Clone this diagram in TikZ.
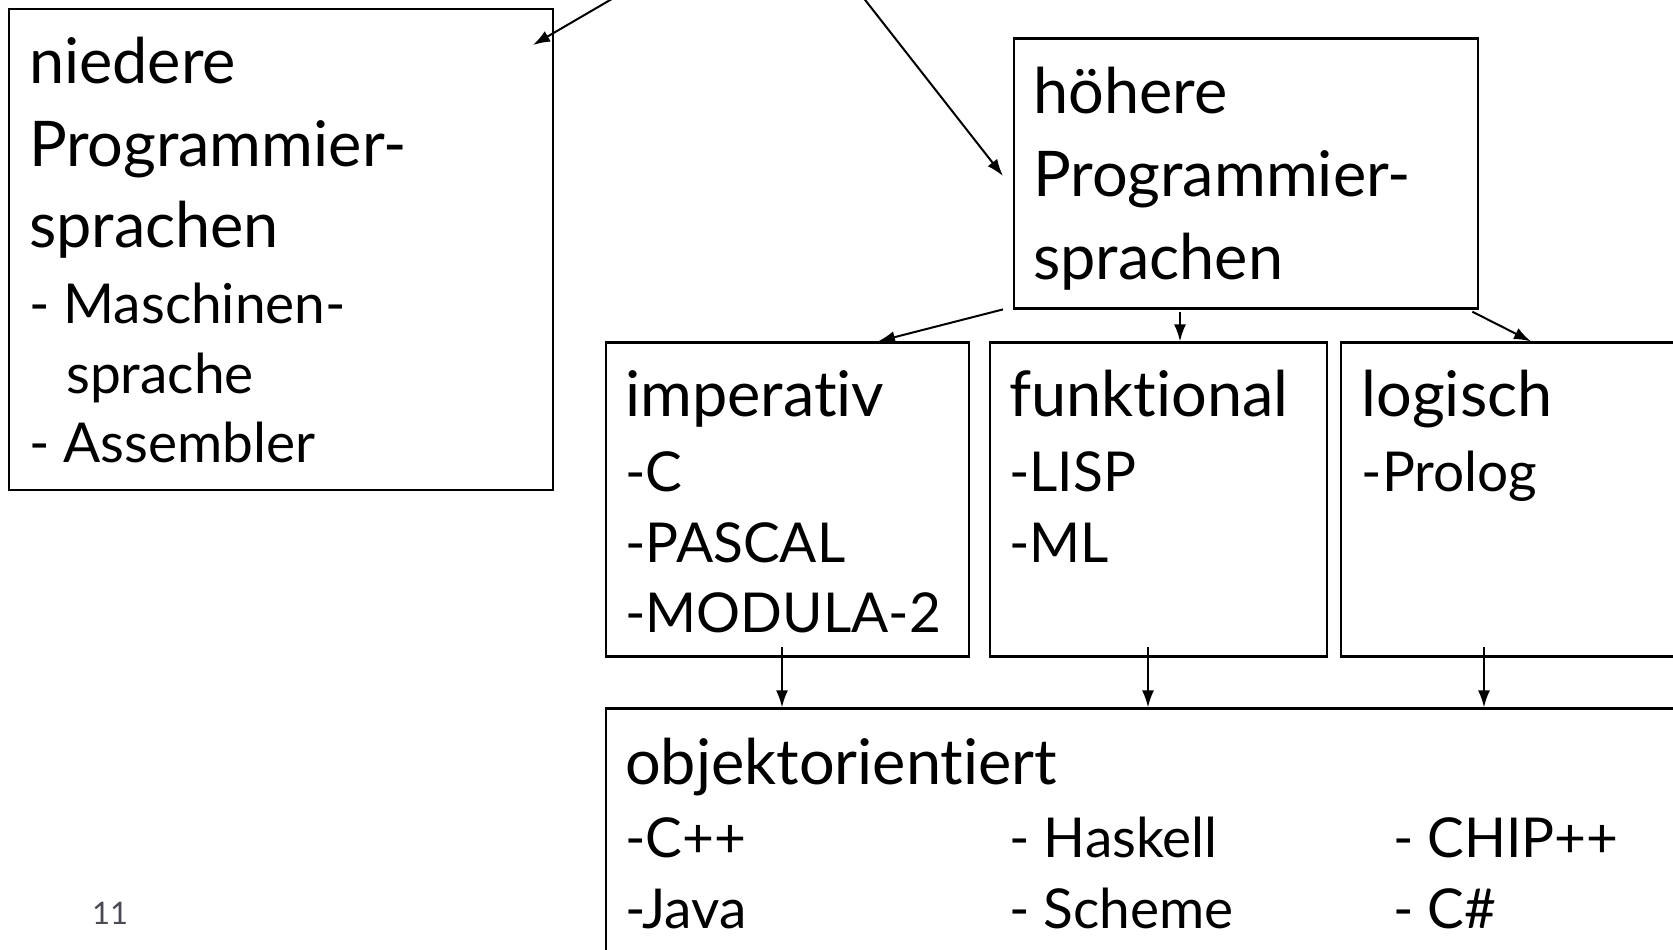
\documentclass[tikz,border=0pt]{standalone}
\usepackage{fontspec}
\setmainfont{Lato}[Ligatures={NoCommon}]
\usetikzlibrary{arrows.meta,calc}
\begin{document}
\begin{tikzpicture}[x=1pt,y=-1pt,
  box/.style={draw,line width=2.4pt,anchor=north west,inner sep=0pt},
  big/.style={anchor=base west,inner sep=0pt,font=\fontsize{63}{75}\selectfont},
  small/.style={anchor=base west,inner sep=0pt,font=\fontsize{55}{66}\selectfont},
  arr/.style={line width=2pt,-{Latex[length=17pt,width=12pt]}},
  pagenum/.style={anchor=base west,inner sep=0pt,text=pgnum,font=\fontsize{31}{38}\selectfont}]
\definecolor{pgnum}{RGB}{74,74,85}
\useasboundingbox[fill=white] (0,0) rectangle (1673,950);

% boxes
\node[box,minimum width=544pt,minimum height=481pt] (nied) at (7.5,8) {};
\node[box,minimum width=464pt,minimum height=270pt] (hoe) at (1012.6,37.3) {};
\node[box,minimum width=363pt,minimum height=314pt] (imp) at (605,341.4) {};
\node[box,minimum width=337pt,minimum height=314pt] (fun) at (989,341.4) {};
\node[box,minimum width=360pt,minimum height=314pt] (log) at (1340,341.4) {};
\node[box,minimum width=1090pt,minimum height=280pt] (obj) at (605,707.4) {};

% texts: niedere
\node[big] (t1) at (28.8,83) {niedere};
\node[big] (t2) at (28.8,166) {Programmier-};
\node[big] (t3) at (28.8,247.5) {sprachen};
\node[small] (t4) at (28.8,323) {- Maschinen-};
\node[small] (t5) at (66,393) {sprache};
\node[small] (t6) at (28.8,462) {- Assembler};
% hoehere
\node[big] (h1) at (1033,113) {höhere};
\node[big] (h2) at (1033,196) {Programmier-};
\node[big] (h3) at (1033,279.5) {sprachen};
% imperativ
\node[big] (i1) at (625,416) {imperativ};
\node[small] (i2) at (625,491) {-C};
\node[small] (i3) at (625,562) {-PASCAL};
\node[small] (i4) at (625,632) {-MODULA-2};
% funktional
\node[big] (f1) at (1009,416) {funktional};
\node[small] (f2) at (1009,491) {-LISP};
\node[small] (f3) at (1009,562) {-ML};
% logisch
\node[big] (l1) at (1361.5,416) {logisch};
\node[small] (l2) at (1361.5,491) {-Prolog};
% objektorientiert
\node[big] (o1) at (625,784) {objektorientiert};
\node[small] (o2) at (625,857) {-C++};
\node[small] (o3) at (625,928) {-Java};
\node[small] (o4) at (1009,857) {- Haskell};
\node[small] (o5) at (1009,928) {- Scheme};
\node[small] (o6) at (1393,857) {- CHIP++};
\node[small] (o7) at (1393,928) {- C\#};
% page number
\node[pagenum] (pn) at (92,924) {11};

% free ends
\coordinate (s1) at (617,-4);
\coordinate (s2) at (862,-4);
\coordinate (e1) at (533,45);
\coordinate (e2) at (1003,176);
\coordinate (s3) at (1003,309.4);

\draw[arr] (s1) -- (e1);
\draw[arr] (s2) -- (e2);
\draw[arr] (s3) -- ($(imp.north west)+(273,0)$);
\draw[arr] ($(hoe.south west)+(167.4,2)$) -- ($(fun.north west)+(191,0)$);
\draw[arr] ($(hoe.south east)+(-6.7,2)$) -- ($(log.north west)+(191,0)$);
\draw[arr] ($(imp.south west)+(177,-11)$) -- ($(obj.north west)+(177,0)$);
\draw[arr] ($(fun.south west)+(159,-11)$) -- ($(obj.north west)+(543,0)$);
\draw[arr] ($(log.south west)+(144,-11)$) -- ($(obj.north west)+(879,0)$);
\end{tikzpicture}
\end{document}
